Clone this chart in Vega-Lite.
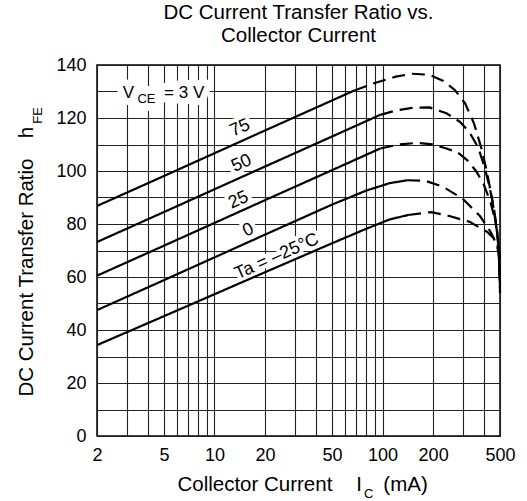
{
  "$schema": "https://vega.github.io/schema/vega-lite/v6.json",
  "width": 403,
  "height": 371,
  "autosize": {"type": "none"},
  "padding": {"left": 97, "top": 65, "right": 27, "bottom": 65},
  "background": "white",
  "title": {
    "text": ["DC Current Transfer Ratio vs.", "Collector Current"],
    "font": "Liberation Sans",
    "fontSize": 20.5,
    "fontWeight": "normal",
    "color": "black",
    "lineHeight": 23,
    "anchor": "middle",
    "frame": "group",
    "offset": 10
  },
  "config": {
    "view": {"stroke": "black", "strokeWidth": 1.5},
    "font": "Liberation Sans",
    "axis": {
      "grid": true,
      "ticks": false,
      "domain": false,
      "labelFlush": false,
      "labelOverlap": false,
      "labelFont": "Liberation Sans",
      "labelFontSize": 18,
      "labelColor": "black",
      "gridColor": "#222",
      "gridWidth": 1.1,
      "gridOpacity": 1
    }
  },
  "datasets": {
    "curves": [
      {"ic": 2, "hfe": 86.8, "ta": "75", "part": "solid"},
      {"ic": 5, "hfe": 98.1, "ta": "75", "part": "solid"},
      {"ic": 10, "hfe": 106.7, "ta": "75", "part": "solid"},
      {"ic": 20, "hfe": 115.3, "ta": "75", "part": "solid"},
      {"ic": 50, "hfe": 126.6, "ta": "75", "part": "solid"},
      {"ic": 68, "hfe": 130.4, "ta": "75", "part": "solid"},
      {"ic": 68, "hfe": 130.4, "ta": "75", "part": "dashed"},
      {"ic": 90, "hfe": 133.2, "ta": "75", "part": "dashed"},
      {"ic": 120, "hfe": 135.6, "ta": "75", "part": "dashed"},
      {"ic": 150, "hfe": 136.7, "ta": "75", "part": "dashed"},
      {"ic": 190, "hfe": 136.3, "ta": "75", "part": "dashed"},
      {"ic": 230, "hfe": 134, "ta": "75", "part": "dashed"},
      {"ic": 270, "hfe": 130.5, "ta": "75", "part": "dashed"},
      {"ic": 310, "hfe": 125.5, "ta": "75", "part": "dashed"},
      {"ic": 350, "hfe": 118, "ta": "75", "part": "dashed"},
      {"ic": 390, "hfe": 108, "ta": "75", "part": "dashed"},
      {"ic": 420, "hfe": 99, "ta": "75", "part": "dashed"},
      {"ic": 450, "hfe": 89, "ta": "75", "part": "dashed"},
      {"ic": 475, "hfe": 79, "ta": "75", "part": "dashed"},
      {"ic": 490, "hfe": 71, "ta": "75", "part": "dashed"},
      {"ic": 500, "hfe": 57, "ta": "75", "part": "dashed"},

      {"ic": 2, "hfe": 73.2, "ta": "50", "part": "solid"},
      {"ic": 5, "hfe": 84.5, "ta": "50", "part": "solid"},
      {"ic": 10, "hfe": 93.1, "ta": "50", "part": "solid"},
      {"ic": 20, "hfe": 101.7, "ta": "50", "part": "solid"},
      {"ic": 50, "hfe": 113.0, "ta": "50", "part": "solid"},
      {"ic": 97, "hfe": 121.2, "ta": "50", "part": "solid"},
      {"ic": 97, "hfe": 121.2, "ta": "50", "part": "dashed"},
      {"ic": 120, "hfe": 122.8, "ta": "50", "part": "dashed"},
      {"ic": 150, "hfe": 123.8, "ta": "50", "part": "dashed"},
      {"ic": 190, "hfe": 124, "ta": "50", "part": "dashed"},
      {"ic": 240, "hfe": 121.8, "ta": "50", "part": "dashed"},
      {"ic": 290, "hfe": 118.5, "ta": "50", "part": "dashed"},
      {"ic": 330, "hfe": 114.5, "ta": "50", "part": "dashed"},
      {"ic": 370, "hfe": 109, "ta": "50", "part": "dashed"},
      {"ic": 400, "hfe": 102.5, "ta": "50", "part": "dashed"},
      {"ic": 430, "hfe": 95, "ta": "50", "part": "dashed"},
      {"ic": 460, "hfe": 86, "ta": "50", "part": "dashed"},
      {"ic": 480, "hfe": 78, "ta": "50", "part": "dashed"},
      {"ic": 495, "hfe": 69, "ta": "50", "part": "dashed"},
      {"ic": 500, "hfe": 57, "ta": "50", "part": "dashed"},

      {"ic": 2, "hfe": 60.5, "ta": "25", "part": "solid"},
      {"ic": 5, "hfe": 71.8, "ta": "25", "part": "solid"},
      {"ic": 10, "hfe": 80.4, "ta": "25", "part": "solid"},
      {"ic": 20, "hfe": 89, "ta": "25", "part": "solid"},
      {"ic": 50, "hfe": 100.3, "ta": "25", "part": "solid"},
      {"ic": 97, "hfe": 108.5, "ta": "25", "part": "solid"},
      {"ic": 97, "hfe": 108.5, "ta": "25", "part": "dashed"},
      {"ic": 125, "hfe": 110, "ta": "25", "part": "dashed"},
      {"ic": 160, "hfe": 110.6, "ta": "25", "part": "dashed"},
      {"ic": 200, "hfe": 110, "ta": "25", "part": "dashed"},
      {"ic": 240, "hfe": 108.5, "ta": "25", "part": "dashed"},
      {"ic": 280, "hfe": 107, "ta": "25", "part": "dashed"},
      {"ic": 320, "hfe": 104, "ta": "25", "part": "dashed"},
      {"ic": 360, "hfe": 100, "ta": "25", "part": "dashed"},
      {"ic": 400, "hfe": 95, "ta": "25", "part": "dashed"},
      {"ic": 440, "hfe": 88, "ta": "25", "part": "dashed"},
      {"ic": 470, "hfe": 81, "ta": "25", "part": "dashed"},
      {"ic": 490, "hfe": 73, "ta": "25", "part": "dashed"},
      {"ic": 500, "hfe": 58, "ta": "25", "part": "dashed"},

      {"ic": 2, "hfe": 47.5, "ta": "0", "part": "solid"},
      {"ic": 5, "hfe": 58.8, "ta": "0", "part": "solid"},
      {"ic": 10, "hfe": 67.4, "ta": "0", "part": "solid"},
      {"ic": 20, "hfe": 76, "ta": "0", "part": "solid"},
      {"ic": 50, "hfe": 87.3, "ta": "0", "part": "solid"},
      {"ic": 80, "hfe": 92.6, "ta": "0", "part": "solid"},
      {"ic": 110, "hfe": 95.4, "ta": "0", "part": "solid"},
      {"ic": 140, "hfe": 96.5, "ta": "0", "part": "solid"},
      {"ic": 140, "hfe": 96.5, "ta": "0", "part": "dashed"},
      {"ic": 180, "hfe": 96.3, "ta": "0", "part": "dashed"},
      {"ic": 230, "hfe": 94, "ta": "0", "part": "dashed"},
      {"ic": 300, "hfe": 89.5, "ta": "0", "part": "dashed"},
      {"ic": 380, "hfe": 83, "ta": "0", "part": "dashed"},
      {"ic": 440, "hfe": 77, "ta": "0", "part": "dashed"},
      {"ic": 480, "hfe": 72, "ta": "0", "part": "dashed"},
      {"ic": 495, "hfe": 67, "ta": "0", "part": "dashed"},
      {"ic": 500, "hfe": 56, "ta": "0", "part": "dashed"},

      {"ic": 2, "hfe": 34.3, "ta": "-25", "part": "solid"},
      {"ic": 5, "hfe": 45.2, "ta": "-25", "part": "solid"},
      {"ic": 10, "hfe": 53.5, "ta": "-25", "part": "solid"},
      {"ic": 20, "hfe": 61.8, "ta": "-25", "part": "solid"},
      {"ic": 50, "hfe": 72.7, "ta": "-25", "part": "solid"},
      {"ic": 80, "hfe": 78.2, "ta": "-25", "part": "solid"},
      {"ic": 110, "hfe": 81.7, "ta": "-25", "part": "solid"},
      {"ic": 142, "hfe": 83.4, "ta": "-25", "part": "solid"},
      {"ic": 142, "hfe": 83.4, "ta": "-25", "part": "dashed"},
      {"ic": 195, "hfe": 84.5, "ta": "-25", "part": "dashed"},
      {"ic": 250, "hfe": 83, "ta": "-25", "part": "dashed"},
      {"ic": 330, "hfe": 80.8, "ta": "-25", "part": "dashed"},
      {"ic": 420, "hfe": 77, "ta": "-25", "part": "dashed"},
      {"ic": 470, "hfe": 74, "ta": "-25", "part": "dashed"},
      {"ic": 495, "hfe": 70, "ta": "-25", "part": "dashed"},
      {"ic": 500, "hfe": 54, "ta": "-25", "part": "dashed"}
    ],
    "curveLabels": [
      {"t": "75", "ic": 14.2, "hfe": 116.2},
      {"t": "50", "ic": 14.5, "hfe": 102.9},
      {"t": "25", "ic": 13.9, "hfe": 89},
      {"t": "0", "ic": 15.9, "hfe": 77.7},
      {"t": "Ta = –25°C", "ic": 23.5, "hfe": 67.7}
    ],
    "vceMain": [
      {"t": "V", "ic": 3.08, "hfe": 127.4},
      {"t": "= 3 V", "ic": 6.6, "hfe": 127.4}
    ],
    "vceSub": [
      {"t": "CE", "ic": 3.94, "hfe": 125.5}
    ],
    "xTitleMain": [
      {"t": "Collector Current", "ic": 17.4, "hfe": -20.75},
      {"t": "I", "ic": 72.5, "hfe": -20.75},
      {"t": "(mA)", "ic": 137, "hfe": -20.75}
    ],
    "xTitleSub": [
      {"t": "C", "ic": 82.6, "hfe": -23.4}
    ],
    "yTitleMain": [
      {"t": "DC Current Transfer Ratio", "ic": 0.832, "hfe": 59.8},
      {"t": "h", "ic": 0.832, "hfe": 114.5}
    ],
    "yTitleSub": [
      {"t": "FE", "ic": 0.942, "hfe": 121}
    ]
  },
  "encoding": {
    "x": {
      "field": "ic",
      "type": "quantitative",
      "scale": {"type": "log", "domain": [2, 500], "nice": false},
      "axis": {
        "title": null,
        "values": [2, 3, 4, 5, 6, 7, 8, 9, 10, 20, 30, 40, 50, 60, 70, 80, 90, 100, 200, 300, 400, 500],
        "labelExpr": "indexof([2,5,10,20,50,100,200,500], datum.value) >= 0 ? datum.value + '' : ''",
        "labelPadding": 10
      }
    },
    "y": {
      "field": "hfe",
      "type": "quantitative",
      "scale": {"domain": [0, 140], "nice": false},
      "axis": {
        "title": null,
        "values": [0, 10, 20, 30, 40, 50, 60, 70, 80, 90, 100, 110, 120, 130, 140],
        "labelExpr": "datum.value % 20 === 0 ? datum.value + '' : ''",
        "labelPadding": 11
      }
    }
  },
  "layer": [
    {
      "data": {"name": "curveLabels"},
      "mark": {"type": "text", "font": "Liberation Sans", "fontSize": 18, "angle": 336, "align": "center", "baseline": "middle", "fill": "white", "stroke": "white", "strokeWidth": 8, "strokeJoin": "round"},
      "encoding": {"text": {"field": "t"}}
    },
    {
      "data": {"name": "vceMain"},
      "mark": {"type": "text", "font": "Liberation Sans", "fontSize": 17, "align": "center", "baseline": "alphabetic", "fill": "white", "stroke": "white", "strokeWidth": 14, "strokeJoin": "round"},
      "encoding": {"text": {"field": "t"}}
    },
    {
      "data": {"name": "vceSub"},
      "mark": {"type": "text", "font": "Liberation Sans", "fontSize": 13, "align": "center", "baseline": "alphabetic", "fill": "white", "stroke": "white", "strokeWidth": 16, "strokeJoin": "round"},
      "encoding": {"text": {"field": "t"}}
    },
    {
      "data": {"name": "curves"},
      "mark": {"type": "line", "color": "black", "strokeWidth": 2.2, "strokeCap": "butt"},
      "encoding": {
        "detail": {"field": "ta"},
        "strokeDash": {
          "field": "part",
          "type": "nominal",
          "scale": {"domain": ["solid", "dashed"], "range": [[1, 0], [13, 7]]},
          "legend": null
        }
      }
    },
    {
      "data": {"name": "curveLabels"},
      "mark": {"type": "text", "font": "Liberation Sans", "fontSize": 18, "angle": 336, "align": "center", "baseline": "middle", "color": "black"},
      "encoding": {"text": {"field": "t"}}
    },
    {
      "data": {"name": "vceMain"},
      "mark": {"type": "text", "font": "Liberation Sans", "fontSize": 17, "align": "center", "baseline": "alphabetic", "color": "black"},
      "encoding": {"text": {"field": "t"}}
    },
    {
      "data": {"name": "vceSub"},
      "mark": {"type": "text", "font": "Liberation Sans", "fontSize": 13, "align": "center", "baseline": "alphabetic", "color": "black"},
      "encoding": {"text": {"field": "t"}}
    },
    {
      "data": {"name": "xTitleMain"},
      "mark": {"type": "text", "font": "Liberation Sans", "fontSize": 20.5, "align": "center", "baseline": "alphabetic", "color": "black"},
      "encoding": {"text": {"field": "t"}}
    },
    {
      "data": {"name": "xTitleSub"},
      "mark": {"type": "text", "font": "Liberation Sans", "fontSize": 13, "align": "center", "baseline": "alphabetic", "color": "black"},
      "encoding": {"text": {"field": "t"}}
    },
    {
      "data": {"name": "yTitleMain"},
      "mark": {"type": "text", "font": "Liberation Sans", "fontSize": 20.5, "angle": 270, "align": "center", "baseline": "alphabetic", "color": "black"},
      "encoding": {"text": {"field": "t"}}
    },
    {
      "data": {"name": "yTitleSub"},
      "mark": {"type": "text", "font": "Liberation Sans", "fontSize": 13, "angle": 270, "align": "center", "baseline": "alphabetic", "color": "black"},
      "encoding": {"text": {"field": "t"}}
    }
  ]
}
